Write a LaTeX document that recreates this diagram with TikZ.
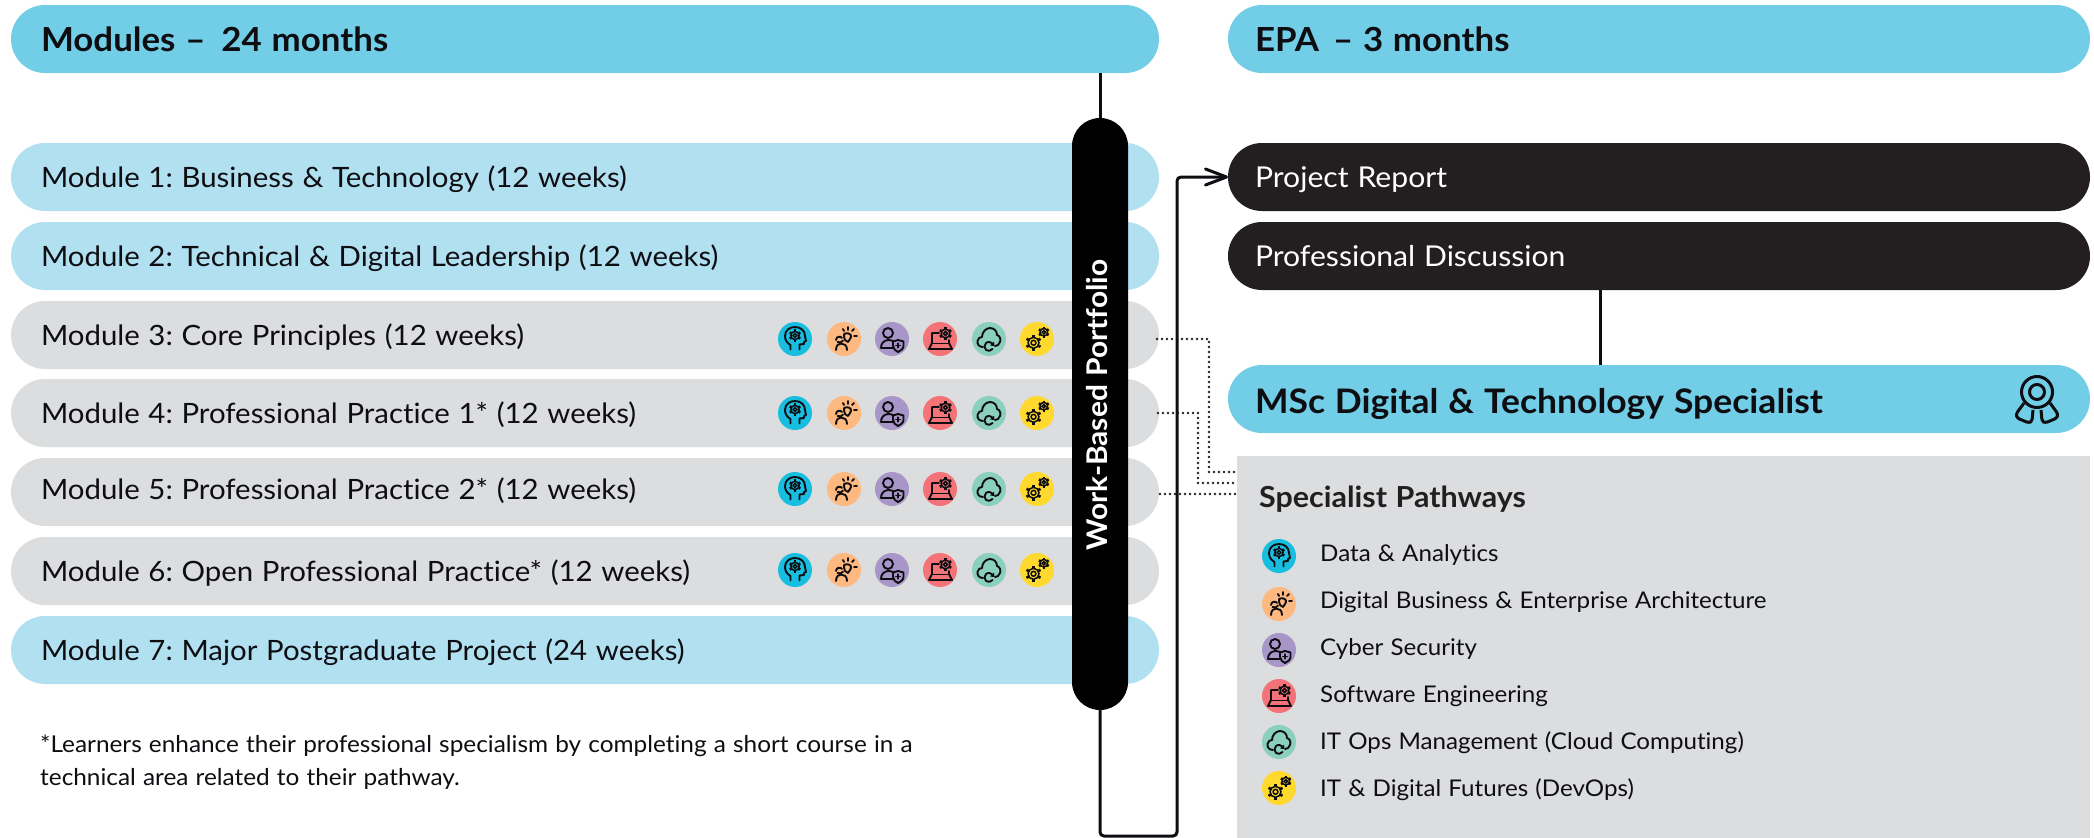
\documentclass[tikz,border=0pt]{standalone}
\usepackage{fontspec}
\setmainfont{Lato}[WordSpace=1.15,Ligatures=NoCommon,FakeStretch=1.05]
\usetikzlibrary{arrows.meta,calc}
\definecolor{hdr}{HTML}{72CEE6}
\definecolor{lite}{HTML}{B1E0F1}
\definecolor{gry}{HTML}{DCDDDF}
\definecolor{dark}{HTML}{231F20}
\definecolor{ink}{HTML}{0E0E12}
\definecolor{cblue}{HTML}{17BEDF}
\definecolor{corange}{HTML}{FDB97F}
\definecolor{cpurple}{HTML}{A796C7}
\definecolor{cred}{HTML}{F47378}
\definecolor{cgreen}{HTML}{8BD0BA}
\definecolor{cyellow}{HTML}{FFD92E}
\newcommand{\fsz}[1]{\fontsize{#1}{#1}\selectfont}
\frenchspacing
\tikzset{
  pill/.style={rectangle,rounded corners=34,minimum height=68,inner ysep=0,inner xsep=30,outer sep=0,anchor=west,align=left,text=ink,execute at begin node={\spaceskip=0pt\xspaceskip=0pt\relax}},
  leftpill/.style={pill,text width=1088,minimum width=1148},
  rightpill/.style={pill,inner xsep=27,text width=808,minimum width=862},
  modtext/.style={font=\fsz{28},text height=24,text depth=4},
  darktext/.style={font=\fsz{28.7},text height=24,text depth=4,text=white},
  headtext/.style={font=\fsz{33.2}\bfseries,text height=28,text depth=4},
  msctext/.style={font=\fsz{33.8}\bfseries,text height=32,text depth=4},
  leg/.style={anchor=west,inner sep=0,text=ink,font=\fsz{23.0}},
  note/.style={anchor=west,inner sep=0,text=ink,font=\fsz{23.2}},
  conn/.style={line width=3,draw=ink,line cap=round},
  dots/.style={line width=2.8,draw=dark,line cap=round,dash pattern=on 0pt off 5pt},
  ico/.style={line width=1.9,draw=ink,line cap=round,line join=round},
  gearline/.style={line width=1.5,draw=ink},
}
\newcommand{\gearico}[3]{\begin{scope}[shift={(#1,#2)},scale=#3]
  \draw[gearline] (0,0) circle[radius=.76];
  \draw[gearline] (0,0) circle[radius=.34];
  \foreach \a in {0,60,...,300}{\draw[line width=2.6,draw=ink] (\a+30:.74) -- (\a+30:1.12);}
\end{scope}}
\newcommand{\icohead}[2]{\begin{scope}[shift={(#1,#2)}]
  \fill[cblue] (0,0) circle[radius=17];
  \draw[ico] (-4.5,10.5) -- (-4.5,6) .. controls (-8,4) and (-10,1) .. (-10,-3) .. controls (-10,-9) and (-5,-12) .. (0,-12) .. controls (6,-12) and (10,-8) .. (10,-3) -- (11,2) -- (9,3) -- (9,5) -- (4.5,5.5) -- (4.5,10.5);
  \gearico{0}{-3.5}{5.4}
\end{scope}}
\newcommand{\icoidea}[2]{\begin{scope}[shift={(#1,#2)}]
  \fill[corange] (0,0) circle[radius=17];
  \draw[ico] (-8,11) .. controls (-8,6) and (-5,4.5) .. (-3,4.5) .. controls (0,4.5) and (3,6) .. (3,11);
  \draw[ico] (-8,1) .. controls (-8,-3) and (-3,-3) .. (-2,-1);
  \draw[ico] (-6.5,3) .. controls (-4,4.5) and (-2,3) .. (-1,1.5);
  \draw[ico] (0,-5) .. controls (3,-7) and (8,-5) .. (7,-2) .. controls (6.5,0) and (5,1) .. (4,3) -- (1,1) .. controls (1,-1) and (-1,-3) .. (0,-5);
  \draw[ico] (0,-8) -- (-1,-10) (4,-9) -- (4,-12) (8,-8) -- (10,-10) (10,-3) -- (13,-3);
\end{scope}}
\newcommand{\icocyber}[2]{\begin{scope}[shift={(#1,#2)}]
  \fill[cpurple] (0,0) circle[radius=17];
  \draw[ico] (-4,-6) circle[radius=5];
  \draw[ico] (1,9) -- (-11,9) .. controls (-11,4) and (-8,1.5) .. (-4,1) .. controls (-2,1) and (0,1.5) .. (1,2);
  \draw[ico] (1,2.5) -- (6,1) -- (11.5,2.5) -- (11.5,7) .. controls (11.5,10) and (8,12) .. (6,13) .. controls (4,12) and (1,10) .. (1,7) -- cycle;
  \draw[ico] (3.8,6.5) -- (8.2,6.5) (6,4.3) -- (6,8.7);
\end{scope}}
\newcommand{\icosoft}[2]{\begin{scope}[shift={(#1,#2)}]
  \fill[cred] (0,0) circle[radius=17];
  \draw[ico] (-1,-6) -- (-8,-6) -- (-8,4) -- (-11,10) -- (12,10) -- (9,4) -- (9,1);
  \draw[ico] (-8,4.5) -- (9,4.5);
  \gearico{5.5}{-5.5}{5.8}
\end{scope}}
\newcommand{\icocloud}[2]{\begin{scope}[shift={(#1,#2)}]
  \fill[cgreen] (0,0) circle[radius=17];
  \draw[ico] (-6,8) .. controls (-10,8) and (-12,5) .. (-11.5,2) .. controls (-11,-1) and (-9,-2) .. (-7,-2) .. controls (-7,-7) and (-3,-11) .. (1,-11) .. controls (5,-11) and (8,-8) .. (8,-4) .. controls (11,-3) and (12,0) .. (11,3) .. controls (10,6) and (8,7) .. (6,7);
  \draw[ico] (4,6) .. controls (3,3) and (-1,2) .. (-3,4) .. controls (-5,6) and (-5,9) .. (-3,11) .. controls (-1,12.5) and (2,12) .. (3.5,10);
  \fill[ink] (5.5,7) -- (5,2.5) -- (1,6.5) -- cycle;
\end{scope}}
\newcommand{\icofut}[2]{\begin{scope}[shift={(#1,#2)}]
  \fill[cyellow] (0,0) circle[radius=17];
  \gearico{-3.5}{3.8}{7.2}
  \gearico{6.8}{-6.8}{5}
\end{scope}}
\newcommand{\icorow}[1]{\icohead{795}{#1}\icoidea{844}{#1}\icocyber{892}{#1}\icosoft{940}{#1}\icocloud{989}{#1}\icofut{1037}{#1}}
\begin{document}
\begin{tikzpicture}[x=1pt,y=-1pt]
\useasboundingbox (0,0) rectangle (2094,838);
\fill[white] (0,0) rectangle (2094,838);
% panel
\node[rectangle,fill=gry,anchor=north west,minimum width=853,minimum height=382,inner sep=0,outer sep=0] (panel) at (1237,456) {};
% headers
\node[leftpill,fill=hdr,headtext] (modh) at (11,39) {Modules --\hspace{16pt}24 months};
\node[rightpill,fill=hdr,headtext] (epah) at (1228,39) {EPA\hspace{14pt}-- 3 months};
% modules
\node[leftpill,fill=lite,modtext] (m1) at (11,177) {Module 1: Business \& Technology (12 weeks)};
\node[leftpill,fill=lite,modtext] (m2) at (11,256) {Module 2: Technical \& Digital Leadership (12 weeks)};
\node[leftpill,fill=gry,modtext] (m3) at (11,335) {Module 3: Core Principles (12 weeks)};
\node[leftpill,fill=gry,modtext] (m4) at (11,413) {Module 4: Professional Practice 1* (12 weeks)};
\node[leftpill,fill=gry,modtext,text depth=9] (m5) at (11,492) {Module 5: Professional Practice 2* (12 weeks)};
\node[leftpill,fill=gry,modtext] (m6) at (11,571) {Module 6: Open Professional Practice* (12 weeks)};
\node[leftpill,fill=lite,modtext] (m7) at (11,650) {Module 7: Major Postgraduate Project (24 weeks)};
% right column
\node[rightpill,fill=dark,darktext] (rep) at (1228,177) {Project Report};
\node[rightpill,fill=dark,darktext] (disc) at (1228,256) {Professional Discussion};
\node[rightpill,fill=hdr,msctext] (msc) at (1228,399) {MSc Digital \& Technology Specialist};
\coordinate (cx) at (1600,300);
\draw[conn,line cap=butt] (cx |- disc.south) -- (cx |- msc.north);
% dotted connectors
\coordinate (d3) at (1209,472);
\coordinate (d4) at (1198,483);
\coordinate (d5) at (1237,494);
\draw[dots] (1157,339) -| (d3) -- (d3 -| panel.west);
\draw[dots] (1158,413) -| (d4) -- (d4 -| panel.west);
\draw[dots] (1160,494) -- (d5);
% portfolio bar and loop
\node[rectangle,fill=black,rounded corners=28,minimum width=56,minimum height=592,inner sep=0,outer sep=0] (bar) at (1100,414) {};
\node[rotate=90,inner sep=0,text=white,font=\fsz{28.5}\bfseries] (barlab) at (1097,405) {Work-Based Portfolio};
\draw[conn,line cap=butt] (bar.north |- modh.south) -- (bar.north);
\coordinate (loop) at (1177,836);
\draw[conn,rounded corners=4,-{Straight Barb[length=21pt,width=16pt,round]}] (bar.south) |- (loop) -- (loop |- rep.west) -- (rep.west);
% icons
\icorow{339}\icorow{413}\icorow{489}\icorow{570}
% award
\begin{scope}[line width=3,draw=ink,line join=round]
\draw[ink] (2037,392) circle[radius=15.5];
\draw[ink] (2037,392) circle[radius=7.5];
\draw[ink,rounded corners=2.5] (2024,403) -- (2016,414) -- (2017,418) -- (2029,423) -- (2032,421) -- (2033,410);
\draw[ink,rounded corners=2.5] (2050,403) -- (2058,414) -- (2057,418) -- (2045,423) -- (2042,421) -- (2041,410);
\end{scope}
% panel text
\node[anchor=west,inner sep=0,text=dark,font=\fsz{29}\bfseries] (sp) at (1259,499) {Specialist Pathways};
\icohead{1279}{556}\node[leg] (l1) at (1320,555) {Data \& Analytics};
\icoidea{1279}{604}\node[leg] (l2) at (1320,602) {Digital Business \& Enterprise Architecture};
\icocyber{1279}{650}\node[leg] (l3) at (1320,649) {Cyber Security};
\icosoft{1279}{696}\node[leg] (l4) at (1320,696) {Software Engineering};
\icocloud{1279}{742}\node[leg] (l5) at (1320,743) {IT Ops Management (Cloud Computing)};
\icofut{1279}{788}\node[leg] (l6) at (1320,790) {IT \& Digital Futures (DevOps)};
% footnote
\node[note] (n1) at (40,746) {*Learners enhance their professional specialism by completing a short course in a};
\node[note] (n2) at (40,779) {technical area related to their pathway.};
\end{tikzpicture}
\end{document}
